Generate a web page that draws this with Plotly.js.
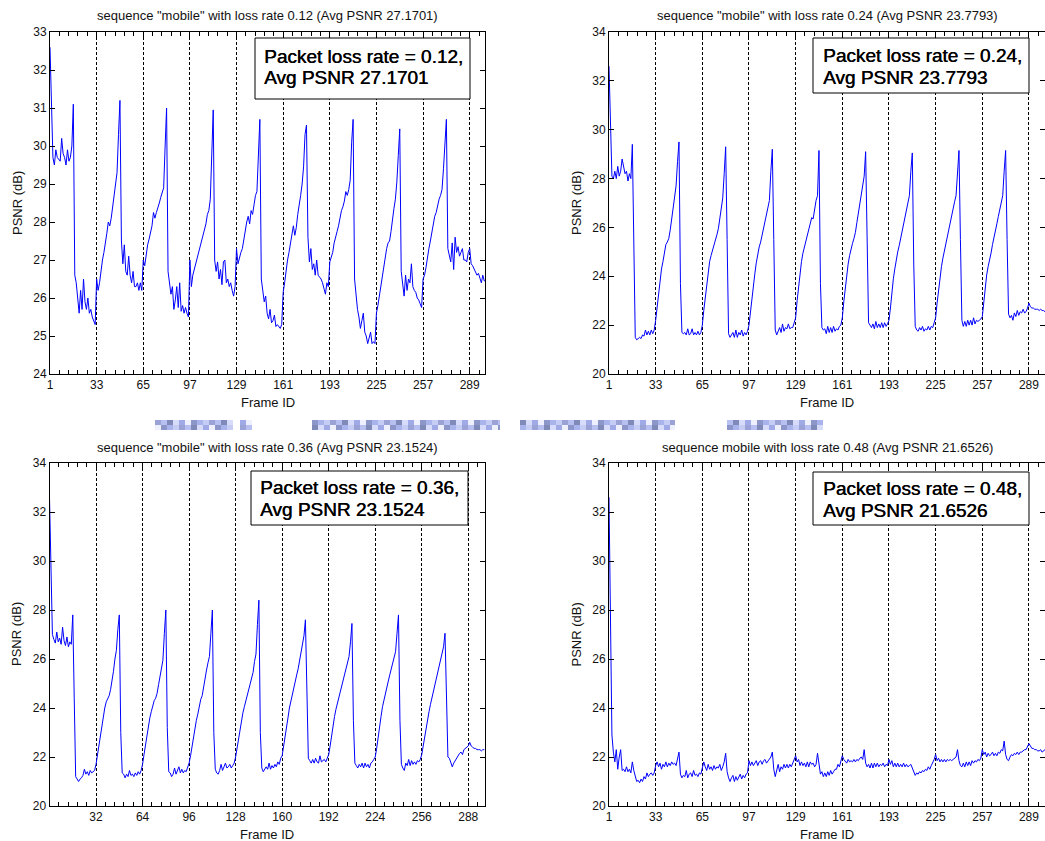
<!DOCTYPE html>
<html><head><meta charset="utf-8">
<script src="https://cdn.plot.ly/plotly-3.0.1.min.js"></script>
<style>html,body{margin:0;padding:0;background:#fff}#chart{width:1045px;height:841px}</style>
</head><body><div id="chart"></div>
<script>
// ---- data (PSNR in dB per frame) ----
const psnrLoss012 = [
32.6,31.1,29.7,29.5,29.9,29.7,29.65,29.6,30.2,29.8,29.7,29.5,29.9,29.6,29.7,30.0,31.1,26.6,26.4,25.9,25.6,26.2,25.7,26.5,25.9,25.7,26.0,25.6,25.7,25.5,25.4,25.3,
26.5,26.2,26.4,26.8,27.0,27.2,27.4,27.7,28.0,27.9,28.1,28.4,28.8,29.0,29.3,30.3,31.2,27.5,26.9,27.4,26.7,26.6,27.1,26.6,26.4,26.7,26.3,26.3,26.4,26.2,26.4,26.2,
27.0,26.85,27.15,27.4,27.55,27.7,27.9,28.25,28.1,28.25,28.35,28.5,28.65,28.75,28.9,30.0,31.0,26.7,26.4,26.1,26.3,25.7,25.95,26.3,25.75,26.4,25.65,25.8,25.6,25.75,25.6,25.5,
27.0,26.3,26.6,26.75,26.9,27.05,27.2,27.3,27.5,27.65,27.8,27.95,28.2,28.3,28.6,29.8,30.95,27.0,26.7,26.95,26.5,26.75,26.35,26.95,27.0,26.4,26.5,26.3,26.4,26.2,26.05,26.3,
27.3,26.9,27.1,27.2,27.3,27.55,27.8,28.0,28.15,27.95,28.3,28.2,28.45,28.7,28.8,29.7,30.7,26.5,26.2,25.9,26.05,25.6,25.45,25.7,25.35,25.4,25.55,25.25,25.3,25.25,25.2,25.3,
26.15,26.4,26.75,27.0,27.2,27.45,27.6,27.9,27.65,27.85,28.2,28.4,28.7,29.0,29.45,30.3,30.55,27.6,26.95,27.3,26.75,26.9,26.6,27.0,26.6,26.55,26.5,26.4,26.25,26.1,26.4,26.3,
26.95,27.1,27.2,27.45,27.65,27.75,27.9,28.15,28.3,28.4,28.55,28.8,28.7,28.85,29.1,30.1,30.7,26.5,26.0,25.7,25.5,25.2,25.4,25.6,25.1,25.0,24.8,24.95,25.1,24.8,24.85,24.8,
25.6,25.8,26.05,26.3,26.6,26.8,27.0,27.3,27.45,27.5,27.75,28.1,28.35,28.6,29.05,29.75,30.45,26.7,26.4,26.05,26.6,26.2,26.5,26.4,26.9,26.3,26.2,26.15,26.0,25.95,25.85,25.75,
26.5,26.6,26.8,27.1,27.3,27.5,27.7,28.0,28.15,28.25,28.45,28.6,28.7,28.85,29.4,30.2,30.7,27.3,27.1,26.95,27.45,26.75,27.6,27.2,27.35,27.1,27.2,27.3,27.0,27.0,26.95,27.2,
27.3,26.9,26.85,26.75,26.7,26.6,26.65,26.5,26.4,26.6,26.45,26.45
];
const psnrLoss024 = [
32.6,30.3,28.1,28.0,28.3,28.0,28.5,28.1,28.3,28.8,28.4,28.2,28.3,27.9,28.2,28.0,29.4,25.5,21.5,21.4,21.45,21.5,21.45,21.6,21.55,21.8,21.6,21.75,21.6,21.8,21.65,21.8,
22.2,22.7,23.3,23.9,24.3,24.6,25.0,25.3,25.4,25.55,25.9,26.3,26.8,27.3,27.7,28.7,29.5,23.7,21.7,21.65,21.7,21.6,21.85,21.6,21.65,21.85,21.6,21.7,21.6,21.75,21.6,21.7,
22.0,22.6,23.1,23.6,24.2,24.6,24.85,25.05,25.25,25.4,25.7,25.95,26.4,26.8,27.2,28.2,29.3,25.5,21.65,21.5,21.6,21.7,21.5,21.8,21.5,21.7,21.6,21.8,21.55,21.7,21.6,21.75,
22.0,22.6,23.1,23.6,24.1,24.55,24.95,25.2,25.4,25.7,26.0,26.3,26.6,26.8,27.1,28.3,29.2,25.5,21.8,21.6,21.75,21.9,21.7,22.05,21.75,21.9,21.85,22.05,21.85,21.9,21.9,22.1,
22.3,23.0,23.6,24.15,24.6,24.95,25.2,25.45,25.6,25.9,26.2,26.4,26.35,26.8,27.1,27.3,29.15,23.7,21.9,21.8,21.85,21.65,21.95,21.7,21.9,21.7,21.95,21.75,21.85,21.8,21.95,22.0,
22.3,22.95,23.5,24.05,24.5,24.85,25.15,25.35,25.55,25.8,26.2,26.6,27.0,27.35,27.7,28.1,29.1,25.5,22.1,22.0,21.9,22.05,21.85,22.15,21.9,22.05,21.9,22.1,21.9,22.1,21.95,22.05,
22.2,22.7,23.35,23.9,24.3,24.7,25.0,25.25,25.55,25.9,26.2,26.5,26.85,27.05,27.3,28.3,29.05,24.5,21.95,21.8,21.75,21.9,21.8,21.95,21.75,21.85,21.8,21.95,21.8,21.95,21.9,22.1,
22.3,22.9,23.45,24.0,24.4,24.75,25.05,25.3,25.55,25.85,26.15,26.45,26.75,27.05,27.3,28.3,29.15,25.5,22.2,21.95,22.15,21.95,22.2,22.0,22.2,22.0,22.3,22.05,22.2,22.15,22.2,22.25,
22.35,22.95,23.5,24.05,24.4,24.65,24.95,25.3,25.55,25.85,26.15,26.45,26.75,27.0,27.3,28.3,29.15,25.5,22.45,22.3,22.4,22.2,22.5,22.35,22.6,22.4,22.55,22.5,22.65,22.5,22.55,22.7,
22.9,22.75,22.7,22.7,22.65,22.65,22.65,22.6,22.65,22.6,22.6,22.55
];
const psnrLoss036 = [
32.6,29.8,27.0,26.8,26.65,27.1,26.7,26.85,26.6,27.3,26.75,26.55,26.9,26.5,26.7,26.6,27.8,24.4,21.2,21.1,21.0,21.1,21.15,21.25,21.5,21.3,21.4,21.25,21.45,21.35,21.4,21.45,
21.7,22.1,22.6,23.0,23.35,23.7,24.0,24.25,24.4,24.5,24.75,25.05,25.5,26.0,26.35,27.2,27.8,23.0,21.35,21.3,21.15,21.3,21.2,21.45,21.25,21.3,21.2,21.35,21.25,21.4,21.3,21.45,
21.7,22.1,22.5,22.9,23.3,23.6,23.85,24.1,24.3,24.4,24.6,24.95,25.3,25.6,25.95,27.05,28.0,23.2,21.4,21.35,21.2,21.3,21.55,21.3,21.45,21.6,21.35,21.5,21.35,21.45,21.4,21.55,
21.75,22.05,22.45,22.85,23.2,23.5,23.75,24.1,24.35,24.5,24.9,25.25,25.55,25.85,26.1,27.05,28.0,23.0,21.5,21.35,21.3,21.45,21.7,21.45,21.6,21.75,21.55,21.6,21.7,21.55,21.65,21.75,
22.0,22.35,22.8,23.2,23.5,23.8,24.05,24.3,24.55,24.75,24.95,25.2,25.45,25.9,26.2,27.4,28.4,23.0,21.55,21.4,21.5,21.6,21.5,21.75,21.5,21.65,21.55,21.7,21.6,21.8,21.7,21.95,
22.05,22.4,22.85,23.25,23.6,24.0,24.3,24.55,24.8,25.1,25.35,25.6,25.95,26.3,26.65,26.95,27.6,24.0,21.95,21.85,21.75,21.9,21.75,21.95,21.8,21.75,22.05,21.8,21.85,21.9,21.8,21.95,
22.1,22.45,22.9,23.3,23.65,23.95,24.2,24.45,24.7,24.95,25.2,25.4,25.6,25.85,26.1,26.7,27.45,23.5,21.75,21.65,21.55,21.7,21.6,21.75,21.55,21.75,21.6,21.7,21.55,21.75,21.8,21.9,
22.0,22.35,22.85,23.25,23.65,24.05,24.35,24.6,24.85,25.1,25.35,25.6,25.85,26.1,26.3,27.05,27.8,23.5,21.7,21.55,21.45,21.75,21.65,21.9,21.65,21.85,21.7,21.8,21.7,21.85,21.8,21.9,
22.1,22.45,22.85,23.2,23.5,23.85,24.15,24.4,24.65,24.9,25.15,25.4,25.7,25.95,26.2,26.5,27.05,24.0,22.0,21.95,21.75,21.6,21.75,21.85,22.0,22.05,22.15,22.2,22.1,22.3,22.35,22.4,
22.45,22.6,22.45,22.4,22.35,22.35,22.3,22.3,22.3,22.25,22.3,22.3
];
const psnrLoss048 = [
32.6,27.8,22.9,22.2,21.8,22.3,21.5,22.0,22.3,21.45,21.5,21.4,21.6,21.4,21.5,21.35,21.8,21.45,21.15,21.0,21.05,20.95,21.1,21.0,21.2,21.1,21.35,21.2,21.3,21.35,21.25,21.35,
21.65,21.8,21.6,21.75,21.5,21.7,21.6,21.8,21.6,21.75,21.65,21.8,21.7,21.75,21.65,21.9,22.2,21.3,21.15,21.25,21.2,21.45,21.15,21.3,21.35,21.2,21.45,21.25,21.3,21.2,21.35,21.3,
21.55,21.8,21.6,21.45,21.7,21.5,21.6,21.45,21.65,21.5,21.6,21.55,21.7,21.45,21.6,21.8,22.15,21.4,21.15,21.0,21.15,21.25,21.0,21.2,21.05,21.2,21.3,21.1,21.25,21.15,21.3,21.35,
21.85,21.65,21.8,21.65,21.75,21.85,21.65,21.8,21.85,21.7,21.85,21.9,21.75,21.85,21.9,22.0,22.2,21.5,21.2,21.5,21.7,21.4,21.6,21.5,21.7,21.55,21.7,21.55,21.7,21.6,21.75,21.9,
22.05,21.8,21.9,21.65,21.8,21.65,21.75,21.6,21.8,21.6,21.8,21.7,21.75,21.6,21.7,22.15,21.6,21.3,21.4,21.2,21.35,21.2,21.4,21.25,21.45,21.3,21.4,21.5,21.5,21.7,21.6,21.85,
22.05,21.9,21.8,21.75,21.9,21.8,21.85,21.8,21.9,21.8,21.9,21.85,21.95,22.0,21.9,22.3,21.75,21.6,21.7,21.55,21.75,21.55,21.75,21.6,21.75,21.6,21.7,21.65,21.75,21.6,21.7,21.65,
21.9,21.7,21.85,21.6,21.75,21.6,21.75,21.6,21.7,21.6,21.75,21.6,21.7,21.6,21.65,21.7,21.55,21.4,21.25,21.35,21.3,21.4,21.35,21.45,21.4,21.5,21.45,21.6,21.5,21.65,21.75,21.9,
22.1,21.85,21.95,21.8,21.9,21.8,21.9,21.8,21.9,21.85,21.9,21.85,21.9,21.95,22.0,22.3,21.85,21.65,21.6,21.75,21.6,21.8,21.65,21.8,21.65,21.85,21.75,21.85,21.8,21.9,21.85,21.95,
22.3,22.1,22.2,22.0,22.15,22.05,22.1,22.2,22.05,22.15,22.05,22.2,22.15,22.3,22.25,22.65,22.1,21.9,21.85,22.0,22.1,22.05,22.15,22.1,22.2,22.1,22.2,22.2,22.25,22.3,22.3,22.45,
22.55,22.45,22.35,22.35,22.3,22.3,22.25,22.25,22.3,22.2,22.25,22.3
];
const tickFramesFrom1 = [1,33,65,97,129,161,193,225,257,289];
const tickFramesFrom0 = [32,64,96,128,160,192,224,256,288];
const panelTitles = [
  'sequence "mobile" with loss rate 0.12 (Avg PSNR 27.1701)',
  'sequence "mobile" with loss rate 0.24 (Avg PSNR 23.7793)',
  'sequence "mobile" with loss rate 0.36 (Avg PSNR 23.1524)',
  'sequence mobile with loss rate 0.48 (Avg PSNR 21.6526)'
];
const boxLine1 = ['Packet loss rate = 0.12,','Packet loss rate = 0.24,','Packet loss rate = 0.36,','Packet loss rate = 0.48,'];
const boxLine2 = ['Avg PSNR 27.1701','Avg PSNR 23.7793','Avg PSNR 23.1524','Avg PSNR 21.6526'];

// ---- layout helpers ----
const W = 1045, H = 841;
const px = x => x / W;
const py = y => 1 - y / H;
const FONT = 'Liberation Sans, Arial, Helvetica, sans-serif';

const series = [psnrLoss012, psnrLoss024, psnrLoss036, psnrLoss048];
const xStart = [1, 1, 0, 1];
const traces = series.map((s, k) => ({
  type: 'scatter', mode: 'lines',
  x: s.map((_, i) => i + xStart[k]), y: s,
  xaxis: 'x' + (k ? k + 1 : ''), yaxis: 'y' + (k ? k + 1 : ''),
  line: { color: '#0000ff', width: 1 }, hoverinfo: 'skip'
}));

// panel geometry in pixels: [left, right, top, bottom]
const geom = [[50, 485, 32, 374], [609, 1045, 32, 374], [49.5, 485, 463, 806], [609, 1045, 463, 806]];
const xRanges = [[1, 299.5], [1, 300], [0, 299.5], [1, 300]];
const yRanges = [[24, 33], [20, 34], [20, 34], [20, 34]];
const yDticks = [1, 2, 2, 2];

const axBase = {
  showline: true, linecolor: '#000', linewidth: 1, mirror: 'ticks',
  ticks: 'inside', ticklen: 5, tickwidth: 1, tickcolor: '#000',
  zeroline: false, fixedrange: true,
  tickfont: { family: FONT, size: 12, color: '#111' }
};

const layout = {
  width: W, height: H, margin: { l: 0, r: 0, t: 0, b: 0 },
  paper_bgcolor: '#fff', plot_bgcolor: '#fff', showlegend: false,
  font: { family: FONT, size: 12, color: '#000' },
  annotations: [], shapes: []
};

geom.forEach((g, k) => {
  const sfx = k ? String(k + 1) : '';
  const ticks = k === 2 ? tickFramesFrom0 : tickFramesFrom1;
  layout['xaxis' + sfx] = Object.assign({}, axBase, {
    domain: [px(g[0]), px(g[1])], range: xRanges[k], anchor: 'y' + sfx,
    tickmode: 'array', tickvals: ticks, ticktext: ticks.map(String),
    showgrid: true, gridcolor: '#000', gridwidth: 1, griddash: '3px,2px',
    minor: { tick0: xStart[k], dtick: 6.4, ticks: 'inside', ticklen: 4, tickcolor: '#000', tickwidth: 1, showgrid: false }
  });
  layout['yaxis' + sfx] = Object.assign({}, axBase, {
    domain: [py(g[3]), py(g[2])], range: yRanges[k], anchor: 'x' + sfx,
    tickmode: 'linear', tick0: 0, dtick: yDticks[k], showgrid: false
  });
  const cx = (g[0] + g[1]) / 2;
  layout.annotations.push({ xref: 'paper', yref: 'paper', x: px(cx), y: py(g[2] - 16), text: panelTitles[k],
    showarrow: false, xanchor: 'center', yanchor: 'middle', font: { family: FONT, size: 13, color: '#111' } });
  layout.annotations.push({ xref: 'paper', yref: 'paper', x: px(cx), y: py(g[3] + 28), text: 'Frame ID',
    showarrow: false, xanchor: 'center', yanchor: 'middle', font: { family: FONT, size: 13, color: '#111' } });
  layout.annotations.push({ xref: 'paper', yref: 'paper', x: px(g[0] - 33), y: py((g[2] + g[3]) / 2), text: 'PSNR (dB)',
    showarrow: false, textangle: -90, xanchor: 'center', yanchor: 'middle', font: { family: FONT, size: 13, color: '#111' } });
});

// text boxes (pixels: left, right, top, bottom, textLeft, line1 center, line2 center)
const boxes = [
  [255, 470, 38, 99, 262, 56, 78],
  [813, 1029, 38, 93, 821, 55, 77],
  [251, 468, 471, 525, 258, 487, 509],
  [813, 1029, 472, 525, 821, 488, 510]
];
const boxFont = { family: FONT, size: 19, color: '#000', shadow: '0.5px 0 0 #000' };
boxes.forEach((b, k) => {
  layout.shapes.push({ type: 'rect', xref: 'paper', yref: 'paper', x0: px(b[0]), x1: px(b[1]), y0: py(b[3]), y1: py(b[2]),
    line: { color: '#000', width: 1 }, fillcolor: '#fff', layer: 'above' });
  layout.annotations.push({ xref: 'paper', yref: 'paper', x: px(b[4]), y: py(b[5]), text: boxLine1[k], showarrow: false,
    xanchor: 'left', yanchor: 'middle', font: boxFont });
  layout.annotations.push({ xref: 'paper', yref: 'paper', x: px(b[4]), y: py(b[6]), text: boxLine2[k], showarrow: false,
    xanchor: 'left', yanchor: 'middle', font: boxFont });
});

// pixelated band between the rows (decorative)
const bandSegments = [[155, 233], [240, 252], [312, 500], [520, 675], [727, 823]];
const bandPalette = ['#8c96c8', '#a9b3ec', '#c6cdf5', '#9aa2d6', '#b7c0f0', '#808ab8', '#d6dcfa', '#a0aae6', '#eef1fd'];
let bi = 0;
bandSegments.forEach(seg => {
  for (let x = seg[0]; x < seg[1]; x += 6) {
    const x1 = Math.min(x + 6, seg[1]);
    [[420, 425], [425, 430]].forEach(r => {
      layout.shapes.push({ type: 'rect', xref: 'paper', yref: 'paper', x0: px(x), x1: px(x1), y0: py(r[1]), y1: py(r[0]),
        line: { width: 0 }, fillcolor: bandPalette[(bi * 5 + 3) % bandPalette.length], layer: 'above' });
      bi++;
    });
  }
});

Plotly.newPlot('chart', traces, layout, { staticPlot: true, displayModeBar: false });
</script>
</body></html>
